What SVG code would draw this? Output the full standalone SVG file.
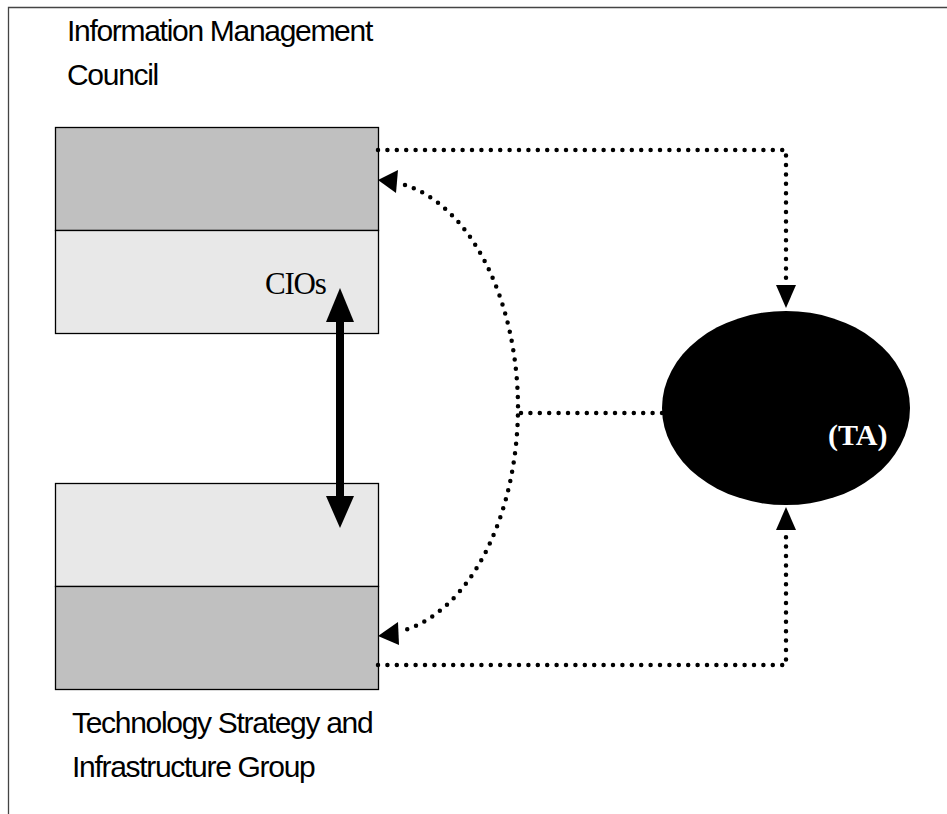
<svg xmlns="http://www.w3.org/2000/svg" width="947" height="814" viewBox="0 0 947 814">
<style>
.lbl{font-family:"Liberation Sans",Arial,sans-serif;font-size:30px;fill:#000;letter-spacing:-1.3px}
.dark{fill:#c0c0c0;stroke:#000;stroke-width:1.3}
.light{fill:#e8e8e8;stroke:#000;stroke-width:1.3}
.dot{fill:none;stroke:#000;stroke-width:4.5;stroke-linecap:round;stroke-dasharray:0 9.4}
.head{fill:#000}
</style>
<rect width="947" height="814" fill="#fff"/>
<g id="frame"><path d="M8.5 814V7.5H947" fill="none" stroke="#444" stroke-width="1.3"/></g>
<g id="imc">
<rect class="dark" x="55.5" y="127.5" width="323" height="103"/>
<rect class="light" x="55.5" y="230.5" width="323" height="103"/>
<text class="lbl" x="67" y="41">Information Management</text>
<text class="lbl" x="67" y="85">Council</text>
<text x="265" y="294" font-family="Liberation Serif,Times New Roman,serif" font-size="31" letter-spacing="-1.2">CIOs</text>
</g>
<g id="tsig">
<rect class="light" x="55.5" y="483.5" width="323" height="103"/>
<rect class="dark" x="55.5" y="586.5" width="323" height="103"/>
<text class="lbl" x="72" y="733" letter-spacing="-0.9">Technology Strategy and</text>
<text class="lbl" x="72" y="777" letter-spacing="-0.9">Infrastructure Group</text>
</g>
<g id="ta">
<ellipse cx="786" cy="408" rx="124" ry="97" fill="#000"/>
<text x="828" y="445" font-family="Liberation Serif,Times New Roman,serif" font-size="30" font-weight="bold" fill="#fff">(TA)</text>
</g>
<g id="connectors">
<path class="dot" d="M378 150H786V278"/>
<path class="head" d="M776 285L796 285L786 308Z"/>
<path class="dot" d="M378 665H786V537"/>
<path class="head" d="M776 530L796 530L786 507Z"/>
<path class="dot" d="M662 413H520"/>
<path class="dot" d="M405 185A140 228 0 0 1 518 408A140 228 0 0 1 405 630"/>
<path class="head" d="M378 180L398 170L396 193Z"/>
<path class="head" d="M378 636L398 622L399 645Z"/>
<path d="M340 318V500" stroke="#000" stroke-width="8"/>
<path class="head" d="M340 288L354 322L326 322Z"/>
<path class="head" d="M340 528L354 496L326 496Z"/>
</g>
</svg>
